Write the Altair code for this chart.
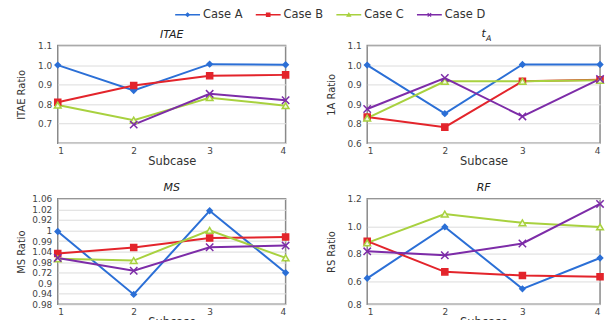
import altair as alt
import pandas as pd

CASES = ["Case A", "Case B", "Case C", "Case D"]
SUBCASES = [1, 2, 3, 4]
COLORS = ["#2b6fd6", "#e3242b", "#a8d13f", "#7d2ca8"]
FILLS = ["#2b6fd6", "#e3242b", "#f3f9de", "#7d2ca8"]
SHAPES = ["diamond", "square", "triangle-up", "M-1,-1L1,1M-1,1L1,-1"]
SIZES = [28, 55, 45, 45]

# ITAE panel
ITAE_A = [1.0, 0.87, 1.005, 1.002]
ITAE_B = [0.81, 0.895, 0.945, 0.95]
ITAE_C = [0.795, 0.718, 0.833, 0.792]
ITAE_D = [None, 0.695, 0.853, 0.82]
ITAE_TICKS = [0.6, 0.7, 0.8, 0.9, 1.0, 1.1]
ITAE_LABELS = ["", "0.7", "0.8", "0.9", "1.0", "1.1"]

# tA panel
TA_A = [1.0, 0.751, 1.003, 1.003]
TA_B = [0.734, 0.682, 0.917, 0.925]
TA_C = [0.728, 0.917, 0.917, 0.922]
TA_D = [0.775, 0.934, 0.737, 0.929]
TA_TICKS = [0.6, 0.7, 0.8, 0.9, 1.0, 1.1]
TA_LABELS = ["0.6", "0.8", "0.9", "0.9", "1.0", "1.1"]

# MS panel
MS_A = [1.029, 0.9694, 1.0487, 0.9899]
MS_B = [1.0081, 1.0138, 1.0229, 1.0238]
MS_C = [1.0031, 1.0015, 1.0301, 1.004]
MS_D = [1.004, 0.9918, 1.0141, 1.0157]
MS_TICKS = [0.96, 0.97, 0.98, 0.99, 1.0, 1.01, 1.02, 1.03, 1.04, 1.05, 1.06]
MS_LABELS = ["0.98", "0.94", "0.9", "0.72", "0.98", "1.04", "0.99", "1", "0.92", "1.02", "1.06"]

# RF panel
RF_A = [0.62, 0.995, 0.543, 0.768]
RF_B = [0.891, 0.667, 0.64, 0.632]
RF_C = [0.879, 1.089, 1.025, 0.995]
RF_D = [0.817, 0.788, 0.874, 1.163]
RF_TICKS = [0.43, 0.6, 0.8, 1.0, 1.2]
RF_LABELS = ["0.8", "0.6", "0.8", "1.0", "1.2"]


def label_expr(ticks, labels):
    expr = "''"
    for t, l in zip(ticks, labels):
        expr = f"abs(datum.value - {t}) < 1e-6 ? '{l}' : ({expr})"
    return expr


def make_df(series):
    rows = []
    for case, vals in zip(CASES, series):
        for s, v in zip(SUBCASES, vals):
            if v is not None:
                rows.append({"Case": case, "Subcase": s, "Value": v})
    return pd.DataFrame(rows)


def panel(series, title, ytitle, ticks, labels, w, h, sub=None):
    df = make_df(series)
    base = alt.Chart(df)
    x = alt.X("Subcase:Q", scale=alt.Scale(domain=[1, 4], nice=False),
              axis=alt.Axis(values=SUBCASES, format="d", title="Subcase", grid=False,
                            domain=False, ticks=False, labelPadding=3, titlePadding=0))
    y = alt.Y("Value:Q", scale=alt.Scale(domain=[ticks[0], ticks[-1]], nice=False, zero=False),
              axis=alt.Axis(values=ticks, labelExpr=label_expr(ticks, labels), title=ytitle,
                            grid=True, domain=False, ticks=False, labelPadding=6,
                            minExtent=28, maxExtent=28, titlePadding=3))
    color = alt.Color("Case:N", scale=alt.Scale(domain=CASES, range=COLORS), legend=None)
    line = base.mark_line(strokeWidth=2).encode(x=x, y=y, color=color)
    pts = base.mark_point(filled=False, strokeWidth=1.5, opacity=1).encode(
        x=x, y=y, color=color,
        shape=alt.Shape("Case:N", scale=alt.Scale(domain=CASES, range=SHAPES), legend=None),
        fill=alt.Fill("Case:N", scale=alt.Scale(domain=CASES, range=FILLS), legend=None),
        size=alt.Size("Case:N", scale=alt.Scale(domain=CASES, range=SIZES), legend=None),
    )
    layers = [line, pts]
    props = dict(width=w, height=h, view=alt.ViewBackground(stroke="#8a8a8a", strokeWidth=1.5))
    if sub:
        tdf = pd.DataFrame({"t": [title], "s": [sub]})
        main_txt = alt.Chart(tdf).mark_text(
            align="center", baseline="middle", fontSize=11, fontStyle="italic", color="#222"
        ).encode(x=alt.value(w / 2), y=alt.value(-11.5), text="t:N")
        sub_txt = alt.Chart(tdf).mark_text(
            align="left", baseline="alphabetic", fontSize=8, fontStyle="italic", color="#222"
        ).encode(x=alt.value(w / 2 + 2.5), y=alt.value(-4.5), text="s:N")
        layers += [main_txt, sub_txt]
    else:
        props["title"] = alt.TitleParams(text=title, fontStyle="italic", fontWeight="normal",
                                         fontSize=11, offset=1.5, anchor="middle", color="#222")
    return alt.layer(*layers).properties(**props)


p1 = panel([ITAE_A, ITAE_B, ITAE_C, ITAE_D], "ITAE", "ITAE Ratio", ITAE_TICKS, ITAE_LABELS, 229, 98)
p2 = panel([TA_A, TA_B, TA_C, TA_D], "t", "1A Ratio", TA_TICKS, TA_LABELS, 234, 98, sub="A")
p3 = panel([MS_A, MS_B, MS_C, MS_D], "MS", "MS Ratio", MS_TICKS, MS_LABELS, 229, 106)
p4 = panel([RF_A, RF_B, RF_C, RF_D], "RF", "RS Ratio", RF_TICKS, RF_LABELS, 234, 106)

grid = alt.concat(p1, p2, p3, p4, columns=2, align="each",
                  spacing=alt.RowColnumber(row=13, column=32))

# custom legend: a spacer followed by one small view per case (line + marker + label)
LEG_BG = alt.ViewBackground(fill="#ffffff", stroke=None)
spacer = alt.Chart(pd.DataFrame({"Case": [""]})).mark_text(opacity=0).encode(
    x=alt.value(0), y=alt.value(4), text="Case:N").properties(width=107, height=8, view=LEG_BG)
items = []
for case, col, shp, fil in zip(CASES, COLORS, SHAPES, FILLS):
    d = alt.Chart(pd.DataFrame({"Case": [case]}))
    seg = d.mark_rule(color=col, strokeWidth=1.5).encode(
        x=alt.value(0), x2=alt.value(25), y=alt.value(4))
    mk = d.mark_point(shape=shp, color=col, fill=col, filled=False, strokeWidth=1.2,
                      opacity=1, size=12).encode(x=alt.value(12.5), y=alt.value(4))
    tx = d.mark_text(align="left", baseline="middle", fontSize=11.5, color="#333").encode(
        x=alt.value(28), y=alt.value(4), text="Case:N")
    items.append(alt.layer(seg, mk, tx).properties(width=70, height=8, view=LEG_BG))
legend = alt.hconcat(spacer, *items, spacing=10)

chart = alt.vconcat(legend, grid, spacing=6).properties(
    padding={"left": 8, "top": 0, "right": 0, "bottom": 0}
).configure(font="DejaVu Sans").configure_axis(
    labelFontSize=9, labelColor="#444", titleFontWeight="normal", titleColor="#333",
    gridColor="#dcdcdc", gridWidth=1
).configure_axisX(titleFontSize=11.5).configure_axisY(titleFontSize=10).configure_view(stroke=None)

chart.save("out.html", embed_options={"renderer": "svg", "actions": False})
